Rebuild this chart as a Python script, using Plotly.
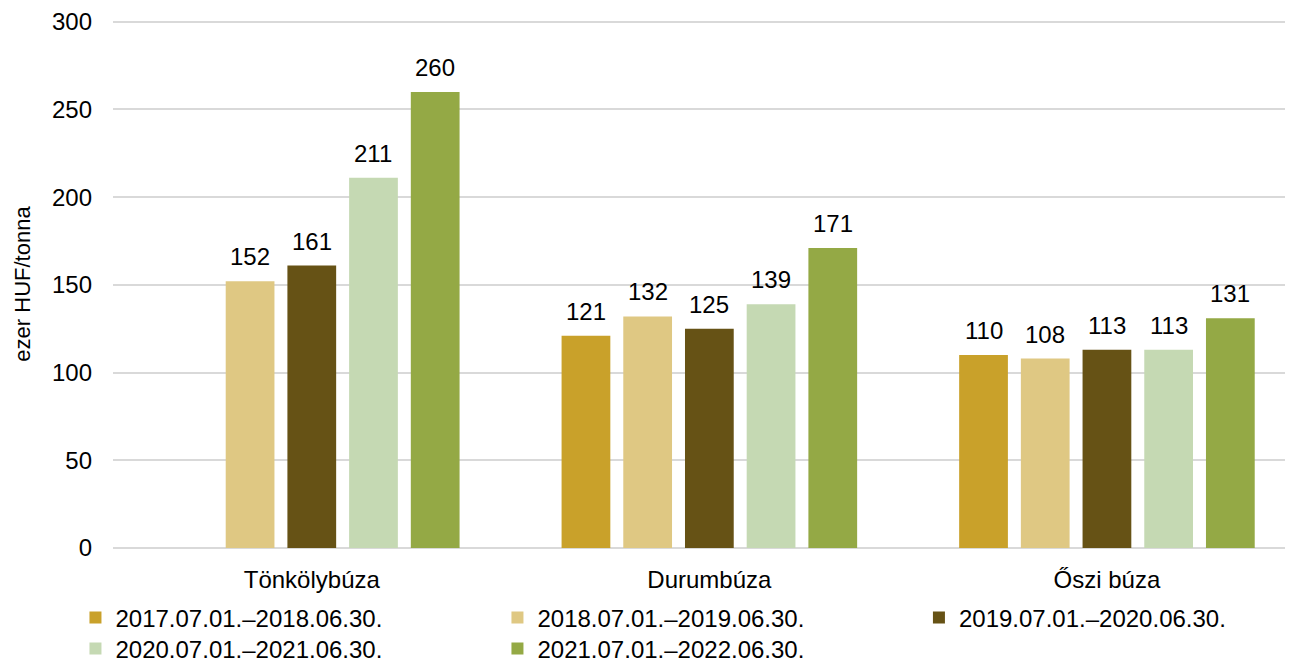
import plotly.graph_objects as go

categories = ["Tönkölybúza", "Durumbúza", "Őszi búza"]
series_names = [
    "2017.07.01.–2018.06.30.",
    "2018.07.01.–2019.06.30.",
    "2019.07.01.–2020.06.30.",
    "2020.07.01.–2021.06.30.",
    "2021.07.01.–2022.06.30.",
]
s2017 = [None, 121, 110]
s2018 = [152, 132, 108]
s2019 = [161, 125, 113]
s2020 = [211, 139, 113]
s2021 = [260, 171, 131]
colors = ["#C9A12A", "#DFC883", "#665215", "#C5D9B3", "#94A945"]

values = [s2017, s2018, s2019, s2020, s2021]
FONT = "Liberation Sans, Arial, sans-serif"
FS = 24
BARGAP = 0.224
NSER = len(series_names)

# The page body has an 8px margin, so the figure is sized to fill the rest of the window.
W, H = 1285, 654

# legend slots (container coords): 3 columns on row 1, 2 on row 2
leg_x = [0.0525, 0.3809, 0.7089, 0.0525, 0.3809]
leg_y = [0.0673, 0.0673, 0.0673, 0.0199, 0.0199]
leg_ids = ["legend", "legend2", "legend3", "legend4", "legend5"]

fig = go.Figure()
for name, vals, col, lid in zip(series_names, values, colors, leg_ids):
    fig.add_trace(go.Bar(
        x=categories, y=vals, name=name, marker_color=col,
        marker_line_width=0, legend=lid,
    ))

# value labels above each bar (placed at the bar's data position)
slot = (1 - BARGAP) / NSER
for si, vals in enumerate(values):
    for ci, v in enumerate(vals):
        if v is None:
            continue
        fig.add_annotation(
            x=ci + (si - (NSER - 1) / 2) * slot, y=v, xref="x", yref="y",
            text=str(v), showarrow=False, yanchor="bottom", yshift=9,
            font=dict(size=FS, family=FONT, color="#000000"),
        )

layout_legends = {}
for lid, lx, ly in zip(leg_ids, leg_x, leg_y):
    layout_legends[lid] = dict(
        orientation="h", x=lx, xanchor="left", y=ly, yanchor="middle",
        xref="container", yref="container",
        font=dict(size=FS, family=FONT, color="#000000"), itemwidth=30,
        bgcolor="rgba(0,0,0,0)",
    )

fig.update_layout(
    barmode="group", bargap=BARGAP, bargroupgap=0.21,
    width=W, height=H,
    margin=dict(l=105, r=0, t=12, b=114),
    paper_bgcolor="white", plot_bgcolor="white",
    font=dict(family=FONT, size=FS, color="#000000"),
    xaxis=dict(range=[-0.5, 2.468], showgrid=False, showline=False, ticks="",
               tickfont=dict(size=FS), fixedrange=True, automargin=False,
               ticklabelstandoff=15),
    yaxis=dict(range=[0, 301], tickvals=[0, 50, 100, 150, 200, 250, 300],
               showgrid=True, gridcolor="#D9D9D9",
               gridwidth=2, zeroline=True, zerolinecolor="#D9D9D9", zerolinewidth=2,
               showline=False, ticks="", tickfont=dict(size=FS), automargin=False,
               ticklabelstandoff=20,
               title=dict(text="ezer HUF/tonna", font=dict(size=22), standoff=15)),
    showlegend=True,
    **layout_legends,
)
fig.write_html("out.html")
